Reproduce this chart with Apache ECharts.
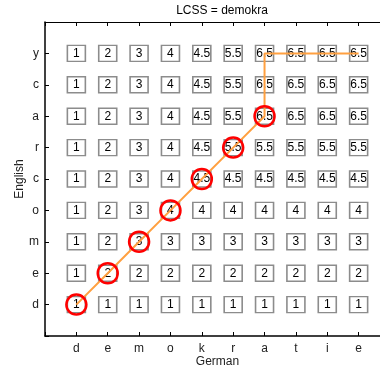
<!DOCTYPE html>
<html>
<head>
<meta charset="utf-8">
<script src="https://cdn.jsdelivr.net/npm/echarts@6/dist/echarts.min.js"></script>
<style>
  html, body { margin: 0; padding: 0; background: #fff; }
  #chart { width: 380px; height: 367px; }
</style>
</head>
<body>
<div id="chart"></div>
<script>
  // Buchstaben der beiden Wörter
  var germanChars = ['d', 'e', 'm', 'o', 'k', 'r', 'a', 't', 'i', 'e'];
  var englishChars = ['d', 'e', 'm', 'o', 'c', 'r', 'a', 'c', 'y'];

  // Werte pro Zeile (englisch, von unten nach oben)
  var row_d = [1, 1, 1, 1, 1, 1, 1, 1, 1, 1];
  var row_e = [1, 2, 2, 2, 2, 2, 2, 2, 2, 2];
  var row_m = [1, 2, 3, 3, 3, 3, 3, 3, 3, 3];
  var row_o = [1, 2, 3, 4, 4, 4, 4, 4, 4, 4];
  var row_c1 = [1, 2, 3, 4, 4.5, 4.5, 4.5, 4.5, 4.5, 4.5];
  var row_r = [1, 2, 3, 4, 4.5, 5.5, 5.5, 5.5, 5.5, 5.5];
  var row_a = [1, 2, 3, 4, 4.5, 5.5, 6.5, 6.5, 6.5, 6.5];
  var row_c2 = [1, 2, 3, 4, 4.5, 5.5, 6.5, 6.5, 6.5, 6.5];
  var row_y = [1, 2, 3, 4, 4.5, 5.5, 6.5, 6.5, 6.5, 6.5];
  var rows = [row_d, row_e, row_m, row_o, row_c1, row_r, row_a, row_c2, row_y];

  // Pfad (1-basiert) und Treffer
  var pathX = [1, 2, 3, 4, 5, 6, 7, 7, 7, 8, 9, 10];
  var pathY = [1, 2, 3, 4, 5, 6, 7, 8, 9, 9, 9, 9];
  var matchX = [1, 2, 3, 4, 5, 6, 7];
  var matchY = [1, 2, 3, 4, 5, 6, 7];

  var cells = [];
  rows.forEach(function (row, j) {
    row.forEach(function (v, i) {
      cells.push([i + 1, j + 1, v]);
    });
  });
  var pathData = pathX.map(function (x, i) { return [x, pathY[i]]; });
  var matchData = matchX.map(function (x, i) { return [x, matchY[i]]; });

  var font = 'Liberation Sans, Arial, sans-serif';
  var myChart = echarts.init(document.getElementById('chart'));
  myChart.setOption({
    animation: false,
    title: {
      text: 'LCSS = demokra',
      left: 217,
      textAlign: 'center',
      top: 0,
      textStyle: { fontFamily: font, fontSize: 12, fontWeight: 'normal', color: '#000' }
    },
    grid: { left: 45, top: 22, width: 345, height: 314, containLabel: false, outerBoundsMode: 'none' },
    xAxis: [{
      type: 'value',
      min: 0,
      max: 11,
      interval: 1,
      name: 'German',
      nameLocation: 'middle',
      nameGap: 20,
      nameMoveOverlap: false,
      nameTextStyle: { fontFamily: font, fontSize: 12, color: '#222' },
      axisLine: { lineStyle: { color: '#000', width: 1.5 } },
      axisTick: { inside: true, length: 4, lineStyle: { color: '#000' } },
      axisLabel: {
        fontFamily: font, fontSize: 12, color: '#222', margin: 7,
        formatter: function (v) { return germanChars[v - 1] || ''; }
      },
      splitLine: { show: false }
    }, {
      type: 'value',
      position: 'top',
      min: 0,
      max: 11,
      interval: 1,
      axisLine: { lineStyle: { color: '#000', width: 1 } },
      axisTick: { inside: true, length: 4, lineStyle: { color: '#000' } },
      axisLabel: { show: false },
      splitLine: { show: false }
    }],
    yAxis: {
      type: 'value',
      min: 0,
      max: 10,
      interval: 1,
      name: 'English',
      nameLocation: 'middle',
      nameGap: 19,
      nameMoveOverlap: false,
      nameRotate: 90,
      nameTextStyle: { fontFamily: font, fontSize: 12, color: '#222' },
      axisLine: { lineStyle: { color: '#000', width: 1.5 } },
      axisTick: { inside: true, length: 4, lineStyle: { color: '#000' } },
      axisLabel: {
        fontFamily: font, fontSize: 12, color: '#222', margin: 6,
        formatter: function (v) { return englishChars[v - 1] || ''; }
      },
      splitLine: { show: false }
    },
    series: [{
      type: 'scatter',
      data: cells,
      symbol: 'rect',
      symbolSize: [18, 16],
      z: 2,
      itemStyle: { color: '#fff', borderColor: '#8c8c8c', borderWidth: 1.5, opacity: 1 },
      label: {
        show: true,
        position: 'inside',
        fontFamily: font,
        fontSize: 12,
        color: '#000',
        formatter: function (p) { return String(p.value[2]); }
      }
    }, {
      type: 'line',
      data: pathData,
      symbol: 'none',
      z: 3,
      lineStyle: { color: '#ffa040', width: 2 }
    }, {
      type: 'scatter',
      data: matchData,
      symbol: 'circle',
      symbolSize: 20,
      z: 4,
      itemStyle: { color: 'transparent', borderColor: '#ff0000', borderWidth: 2.5, opacity: 1 }
    }]
  });
</script>
</body>
</html>
